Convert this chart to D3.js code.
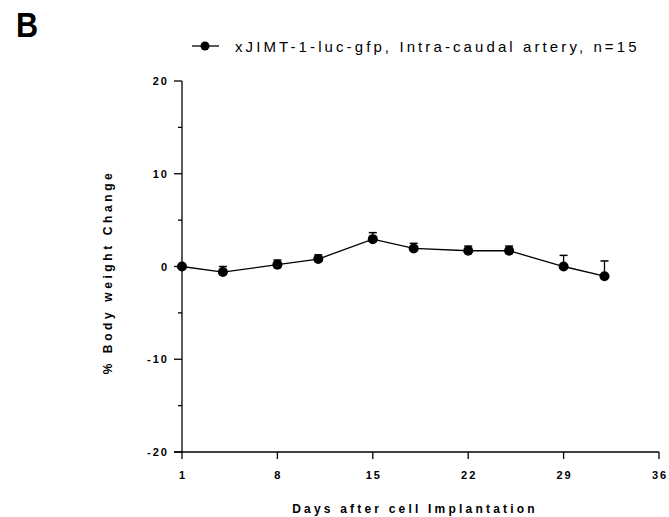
<!DOCTYPE html>
<html>
<head>
<meta charset="utf-8">
<script src="https://cdn.jsdelivr.net/npm/d3@7"></script>
<style>
    body { margin: 0; background: #fff; }
    svg { display: block; font-family: "Liberation Sans", Arial, sans-serif; }
    .tick-label { font-size: 11px; font-weight: bold; letter-spacing: 2px; }
    .axis-title { font-size: 12px; font-weight: bold; }
</style>
</head>
<body>
<svg id="chart" width="669" height="517"></svg>
<script>
    // data
    const days = [1, 4, 8, 11, 15, 18, 22, 25, 29, 32];
    const change = [0, -0.6, 0.2, 0.8, 2.95, 1.95, 1.7, 1.7, 0, -1.05];
    const sem = [0, 0.6, 0.5, 0.45, 0.7, 0.55, 0.5, 0.5, 1.2, 1.65];
    const xTicks = [1, 8, 15, 22, 29, 36];
    const yTicks = [-20, -10, 0, 10, 20];
    const yMinor = [-15, -5, 5, 15];
    const seriesName = "xJIMT-1-luc-gfp, Intra-caudal artery, n=15";

    const svg = d3.select("#chart");
    const x = d3.scaleLinear().domain([1, 36]).range([182, 659]);
    const y = d3.scaleLinear().domain([-20, 20]).range([452, 81]);

    // panel letter
    svg.append("text")
        .attr("x", 16).attr("y", 37)
        .attr("font-family", "'Liberation Sans', Arial, sans-serif")
        .attr("font-weight", "bold")
        .attr("font-size", 36)
        .attr("transform", "translate(16,0) scale(0.85,1) translate(-16,0)")
        .text("B");

    // y axis
    const yAxis = svg.append("g").attr("transform", `translate(${x(1)},0)`);
    yAxis.append("line").attr("y1", y(20)).attr("y2", y(-20)).attr("stroke", "#000").attr("stroke-width", 1.3);
    yAxis.selectAll(".major").data(yTicks).join("line")
        .attr("x1", -8).attr("x2", 0)
        .attr("y1", d => y(d)).attr("y2", d => y(d))
        .attr("stroke", "#000").attr("stroke-width", 1.3);
    yAxis.selectAll(".minor").data(yMinor).join("line")
        .attr("x1", -4).attr("x2", 0)
        .attr("y1", d => y(d)).attr("y2", d => y(d))
        .attr("stroke", "#000").attr("stroke-width", 1.3);
    yAxis.selectAll("text").data(yTicks).join("text")
        .attr("class", "tick-label")
        .attr("x", -13).attr("y", d => y(d) + 4)
        .attr("text-anchor", "end")
        .text(d => d);

    // x axis
    const xAxis = svg.append("g").attr("transform", `translate(0,${y(-20)})`);
    xAxis.append("line").attr("x1", x(1) - 8).attr("x2", x(36)).attr("stroke", "#000").attr("stroke-width", 1.3);
    xAxis.selectAll(".tk").data(xTicks).join("line")
        .attr("x1", d => x(d)).attr("x2", d => x(d))
        .attr("y1", 0).attr("y2", 7)
        .attr("stroke", "#000").attr("stroke-width", 1.3);
    xAxis.selectAll("text").data(xTicks).join("text")
        .attr("class", "tick-label")
        .attr("x", d => x(d) + 1).attr("y", 27)
        .attr("text-anchor", "middle")
        .text(d => d);

    // axis titles
    svg.append("text")
        .attr("class", "axis-title")
        .attr("text-anchor", "middle")
        .attr("letter-spacing", 3.6)
        .attr("transform", "translate(112,272) rotate(-90)")
        .text("% Body weight Change");
    svg.append("text")
        .attr("class", "axis-title")
        .attr("text-anchor", "middle")
        .attr("letter-spacing", 3.2)
        .attr("x", 415).attr("y", 513)
        .text("Days after cell Implantation");

    // series
    const pts = days.map((d, i) => ({ day: d, v: change[i], e: sem[i] }));
    const line = d3.line().x(d => x(d.day)).y(d => y(d.v));
    svg.append("path").datum(pts)
        .attr("d", line).attr("fill", "none")
        .attr("stroke", "#000").attr("stroke-width", 1.3);

    const err = svg.append("g").selectAll("g").data(pts.filter(d => d.e > 0)).join("g");
    err.append("line")
        .attr("x1", d => x(d.day)).attr("x2", d => x(d.day))
        .attr("y1", d => y(d.v)).attr("y2", d => y(d.v + d.e))
        .attr("stroke", "#000").attr("stroke-width", 1.3);
    err.append("line")
        .attr("x1", d => x(d.day) - 4).attr("x2", d => x(d.day) + 4)
        .attr("y1", d => y(d.v + d.e)).attr("y2", d => y(d.v + d.e))
        .attr("stroke", "#000").attr("stroke-width", 1.5);

    svg.append("g").selectAll("circle").data(pts).join("circle")
        .attr("cx", d => x(d.day)).attr("cy", d => y(d.v))
        .attr("r", 5).attr("fill", "#000");

    // legend
    const leg = svg.append("g");
    leg.append("line").attr("x1", 192).attr("x2", 219).attr("y1", 46).attr("y2", 46)
        .attr("stroke", "#000").attr("stroke-width", 1.3);
    leg.append("circle").attr("cx", 205).attr("cy", 46).attr("r", 4.5).attr("fill", "#000");
    leg.append("text")
        .attr("x", 235).attr("y", 52)
        .attr("font-size", 15)
        .attr("letter-spacing", 3.1)
        .text(seriesName);
</script>
</body>
</html>
